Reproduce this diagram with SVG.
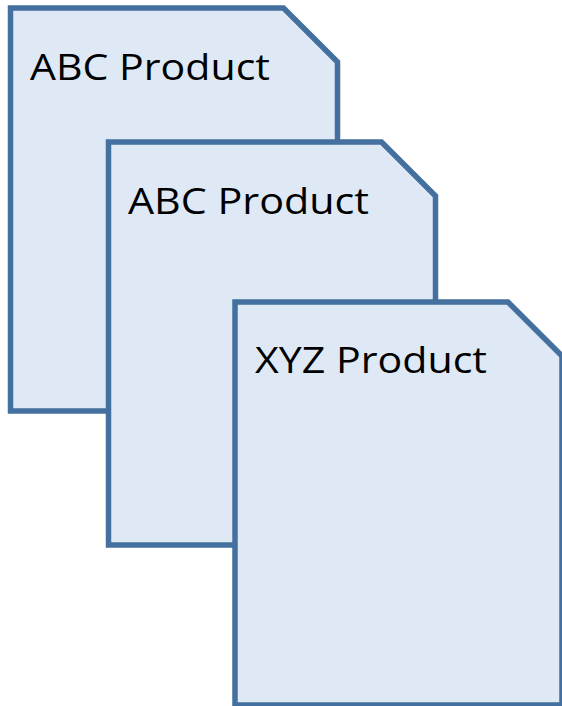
<svg xmlns="http://www.w3.org/2000/svg" width="562" height="706" viewBox="0 0 562 706">
<style>
.doc{fill:#dee9f5;stroke:#43709e;stroke-width:5.5;stroke-linejoin:miter}
.lbl{font-family:"Open Sans","DejaVu Sans",sans-serif;font-size:37px;fill:#000}
</style>
<defs>
<path id="docShape" d="M0,0 H273 L327,54 V403 H0 Z"/>
</defs>
<g id="doc1" transform="translate(10.5,8)">
<use href="#docShape" class="doc"/>
<text class="lbl" x="19.5" y="72" textLength="240" lengthAdjust="spacingAndGlyphs">ABC Product</text>
</g>
<g id="doc2" transform="translate(108.5,142)">
<use href="#docShape" class="doc"/>
<text class="lbl" x="19.5" y="72" textLength="241" lengthAdjust="spacingAndGlyphs">ABC Product</text>
</g>
<g id="doc3" transform="translate(235,302)">
<use href="#docShape" class="doc"/>
<text class="lbl" x="20" y="71" textLength="232" lengthAdjust="spacingAndGlyphs">XYZ Product</text>
</g>
<g id="connectors"/>
</svg>
